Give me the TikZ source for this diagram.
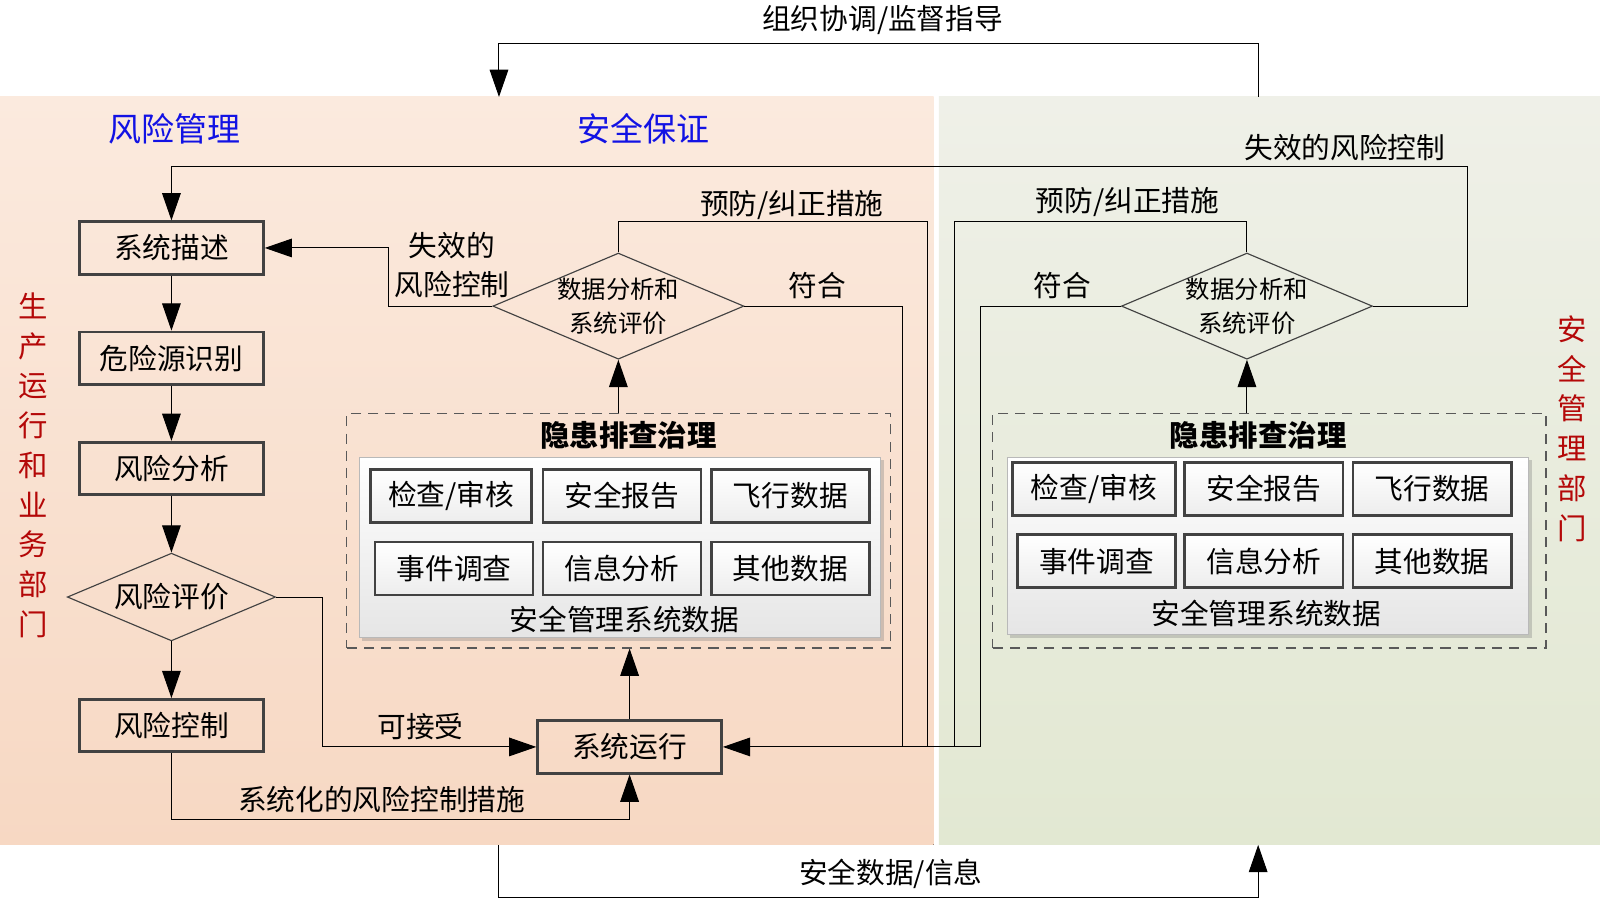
\documentclass[tikz,border=0pt]{standalone}
\usepackage{fontspec}
\setmainfont{Noto Sans CJK SC}
\usepackage{tikz}
\usetikzlibrary{arrows.meta,positioning,shapes.geometric,shadows}

\definecolor{prodtop}{RGB}{251,234,222}
\definecolor{prodbot}{RGB}{247,216,195}
\definecolor{safetop}{RGB}{239,240,232}
\definecolor{safebot}{RGB}{226,232,210}
\definecolor{titleblue}{RGB}{18,18,228}
\definecolor{deptred}{RGB}{180,8,8}
\definecolor{boxline}{RGB}{66,66,66}

\begin{document}
\begin{tikzpicture}[x=0.025cm, y=-0.025cm, >={Triangle[length=19pt,width=13pt]}, on grid, node distance=2.7cm,
    line/.style={draw=black, line width=0.7pt},
    flowbox/.style={draw=boxline, line width=2pt, minimum width=4.5cm, minimum height=1.28cm, inner sep=0pt, font=\fontsize{20}{24}\selectfont},
    decide/.style={draw=boxline, line width=0.8pt, diamond, aspect=2.37, inner sep=-3pt, align=center,
        minimum width=6.15cm, minimum height=2.6cm, font=\fontsize{17}{24}\selectfont},
    databox/.style={draw=boxline, line width=1.8pt, top color=white, bottom color=gray!14, minimum width=3.875cm, minimum height=1.3cm, inner sep=0pt, font=\fontsize{20}{24}\selectfont},
    panel/.style={draw=gray!55, line width=0.8pt, top color=white, bottom color=gray!20, inner sep=0pt,
        drop shadow={shadow xshift=2pt, shadow yshift=-2pt, opacity=.35, fill=gray}},
    dashbox/.style={draw=gray!70!black, dash pattern=on 7pt off 5pt, line width=0.8pt, inner sep=0pt},
    lbl/.style={inner sep=0pt, font=\fontsize{20}{24}\selectfont},
    grouptitle/.style={inner sep=0pt, font=\fontsize{20.5}{24}\selectfont\bfseries},
    zonetitle/.style={inner sep=0pt, text=titleblue, font=\fontsize{23}{28}\selectfont},
    dept/.style={inner sep=0pt, text=deptred, align=center, font=\fontsize{20.5}{27.7}\selectfont}
  ]
\useasboundingbox (0,0) rectangle (1568,880);

% departments
\fill[top color=prodtop, bottom color=prodbot] (0,95) rectangle (915,828);
\fill[top color=safetop, bottom color=safebot] (920,95) rectangle (1568,828);

\node[zonetitle] (rmTitle) at (171,126) {风险管理};
\node[zonetitle] (saTitle) at (631,126) {安全保证};
\node[dept] (prodDept) at (33,456) {生\\产\\运\\行\\和\\业\\务\\部\\门};
\node[dept] (safeDept) at (1541,420) {安\\全\\管\\理\\部\\门};

% risk management column
\node[flowbox] (sysDesc) at (168,243) {系统描述};
\node[flowbox, below=of sysDesc] (hazard) {危险源识别};
\node[flowbox, below=of hazard] (riskAna) {风险分析};
\node[decide, below=3.15cm of riskAna, minimum width=5.1cm, minimum height=2.15cm, inner sep=0pt,
      font=\fontsize{20}{24}\selectfont] (riskEval) {风险评价};
\node[flowbox, below=3.15cm of riskEval] (riskCtl) {风险控制};
\node[flowbox] (sysRun) at (617,732) {系统运行};

% safety assurance, left
\node[decide] (evalL) at (606,300) {数据分析和\\系统评价};
\node[dashbox, minimum width=13.325cm, minimum height=5.75cm] (hazL) at (606.5,520) {};
\node[grouptitle] (hazLTitle) at (616,427) {隐患排查治理};
\node[panel, minimum width=12.775cm, minimum height=4.425cm] (smsL) at (607.5,536.5) {};
\node[lbl] (smsLText) at (612,607) {安全管理系统数据};
\node[databox, minimum width=3.95cm] (auditL) at (442,486) {检查/审核};
\node[databox] (reportL) at (609.5,486) {安全报告};
\node[databox] (flightL) at (774.5,486) {飞行数据};
\node[databox] (eventL) at (445,557) {事件调查};
\node[databox] (infoL) at (609.5,557) {信息分析};
\node[databox] (otherL) at (774.5,557) {其他数据};

% safety assurance, right
\node[decide] (evalR) at (1222,300) {数据分析和\\系统评价};
\node[dashbox, minimum width=13.55cm, minimum height=5.75cm] (hazR) at (1244,520) {};
\node[grouptitle] (hazRTitle) at (1233,427) {隐患排查治理};
\node[panel, minimum width=12.775cm, minimum height=4.35cm] (smsR) at (1242.5,535) {};
\node[lbl] (smsRText) at (1241,601) {安全管理系统数据};
\node[databox, minimum width=4cm] (auditR) at (1072,479) {检查/审核};
\node[databox] (reportR) at (1238.5,479) {安全报告};
\node[databox] (flightR) at (1403.5,479) {飞行数据};
\node[databox] (eventR) at (1074.5,550) {事件调查};
\node[databox] (infoR) at (1238.5,550) {信息分析};
\node[databox] (otherR) at (1403.5,550) {其他数据};

% free ends
\coordinate (supFrom) at (1233,95);
\coordinate (supTo) at (489,95);
\coordinate (dataFrom) at (489,828);
\coordinate (dataTo) at (1233,828);
\coordinate (failTop) at (1438,163);
\coordinate (joinA) at (884,732);
\coordinate (joinB) at (909,732);
\coordinate (joinC) at (935,732);
\coordinate (joinD) at (961,732);

% connectors
\draw[line,->] (supFrom) -- ++(0,-52) -| (supTo);
\draw[line,->] (dataFrom) -- ++(0,52) -| (dataTo);
\draw[line,->] (sysDesc) -- (hazard);
\draw[line,->] (hazard) -- (riskAna);
\draw[line,->] (riskAna) -- (riskEval);
\draw[line,->] (riskEval) -- (riskCtl);
\draw[line,->] (riskEval.east) -- ++(45,0) |- (sysRun.west);
\draw[line,->] (riskCtl.south) -- ++(0,65) -| (sysRun.south);
\draw[line,->] (sysRun.north) -- (sysRun.north |- hazL.south);
\draw[line,->] (evalL |- hazL.north) -- (evalL.south);
\draw[line,->] (evalR |- hazR.north) -- (evalR.south);
\draw[line,->] (evalL.west) -- ++(-102,0) |- (sysDesc.east);
\draw[line] (evalL.north) -- ++(0,-30) -| (joinB);
\draw[line] (evalL.east) -| (joinA);
\draw[line] (evalR.north) -- ++(0,-30) -| (joinC);
\draw[line] (evalR.west) -| (joinD);
\draw[line,->] (joinD) -- (sysRun.east);
\draw[line,->] (evalR.east) -| (failTop) -| (sysDesc.north);

% labels
\node[lbl] (supLbl) at (865,20) {组织协调/监督指导};
\node[lbl] (dataLbl) at (873,856) {安全数据/信息};
\node[lbl, align=center, font=\fontsize{20}{27}\selectfont] (failLLbl) at (443,260) {失效的\\风险控制};
\node[lbl] (fixLLbl) at (776,201) {预防/纠正措施};
\node[lbl] (okLLbl) at (801,280) {符合};
\node[lbl] (fixRLbl) at (1105,198) {预防/纠正措施};
\node[lbl] (okRLbl) at (1041,280) {符合};
\node[lbl] (failRLbl) at (1318,145) {失效的风险控制};
\node[lbl] (acceptLbl) at (412,712) {可接受};
\node[lbl] (measureLbl) at (374,784) {系统化的风险控制措施};
\end{tikzpicture}
\end{document}
